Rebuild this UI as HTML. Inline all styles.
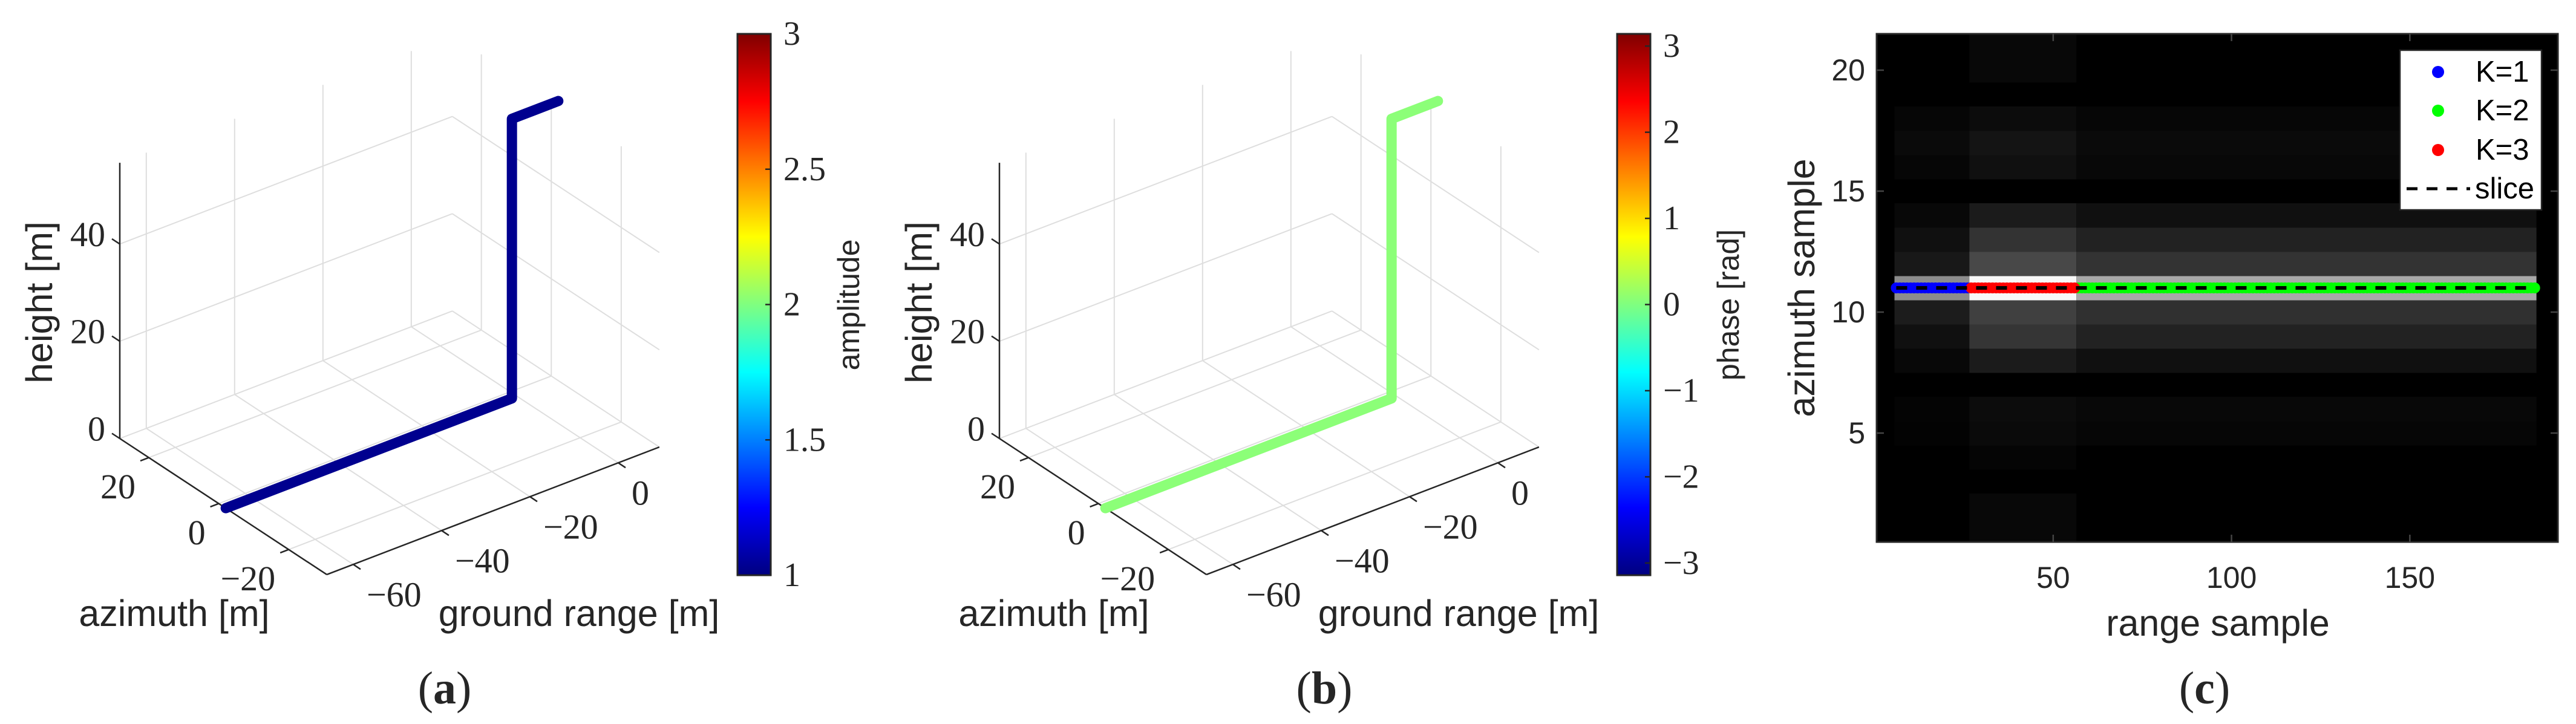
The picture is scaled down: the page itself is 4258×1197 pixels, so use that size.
<!DOCTYPE html>
<html><head><meta charset="utf-8">
<style>
html,body{margin:0;padding:0;background:#fff;}
svg{display:block;}
.serif{font-family:"Liberation Serif",serif;fill:#262626;}
.sans{font-family:"Liberation Sans",sans-serif;fill:#262626;}
</style></head>
<body>
<svg id="fig" width="4258" height="1197" viewBox="0 0 4258 1197" xmlns="http://www.w3.org/2000/svg">
<defs>
<linearGradient id="jet" x1="0" y1="1" x2="0" y2="0">
<stop offset="0" stop-color="#000080"/><stop offset="0.125" stop-color="#0000ff"/>
<stop offset="0.375" stop-color="#00ffff"/><stop offset="0.625" stop-color="#ffff00"/>
<stop offset="0.875" stop-color="#ff0000"/><stop offset="1" stop-color="#800000"/>
</linearGradient>
</defs>
<g id="pa"></g>
<g id="pb"></g>
<g id="pc"></g>
</svg>
<script>
// ---- 3D path data (panels a, b) ----
const pathRange = [-66, -1.2, -1.2, 9.3];
const pathAzimuth = [-2, -2, -2, -2];
const pathHeight = [0, 0, 57.5, 57.5];
const rangeTicks = [-60, -40, -20, 0];
const azTicks = [20, 0, -20];
const hTicks = [0, 20, 40];
const ampTicks = [1, 1.5, 2, 2.5, 3];
const phaseTicks = [-3, -2, -1, 0, 1, 2, 3];
// ---- heatmap data (panel c) ----
const segCols = [[6, 26], [27, 56], [57, 185]];
const segRow1 = [0,0,0,0,3,4,0,8,16,28,140,24,16,8,0,6,10,6,0,0,0];
const segRow2 = [8,8,0,5,10,12,0,27,53,64,248,72,51,27,0,16,20,12,0,8,8];
const segRow3 = [0,0,0,0,6,8,0,16,34,48,168,51,34,16,0,8,10,6,0,0,0];
const clusterLabels = ["K=1", "K=3", "K=2"];
const clusterColors = ["#0000ff", "#ff0000", "#00ff00"];
const sliceRow = 11;
const cXTicks = [50, 100, 150];
const cYTicks = [5, 10, 15, 20];

const NS = "http://www.w3.org/2000/svg";
function mk(parent, tag, attrs, text) {
  const e = document.createElementNS(NS, tag);
  for (const k in attrs) e.setAttribute(k, attrs[k]);
  if (text !== undefined) e.textContent = text;
  parent.appendChild(e);
  return e;
}
const RMIN = -66, RMAX = 9.3, AMIN = -30.9, AMAX = 28.3, HMAX = 56.7;
function fmt(v) { return (v < 0 ? "\u2212" : "") + Math.abs(v); }

function draw3d(g, off, color, cbTicks, cbMin, cbMax, cbLabel, letter) {
  const P = (r, a, h) => { const t = r - RMIN, u = AMAX - a; return [off + 198 + t * 7.3 + u * 5.78, 725 - t * 2.8 + u * 3.8 - h * 8.04]; };
  const line = (p, q, stroke, w, name) => {
    const l = mk(g, "line", {x1: p[0], y1: p[1], x2: q[0], y2: q[1], stroke: stroke, "stroke-width": w});
    
    
    return l;
  };
  const gc = "#dedede";
  rangeTicks.forEach(r => {
    line(P(r, AMAX, 0), P(r, AMIN, 0), gc, 2, "grid-floor-range");
    line(P(r, AMAX, 0), P(r, AMAX, HMAX), gc, 2, "grid-wall-range");
  });
  azTicks.forEach(a => {
    line(P(RMIN, a, 0), P(RMAX, a, 0), gc, 2, "grid-floor-azimuth");
    line(P(RMAX, a, 0), P(RMAX, a, HMAX), gc, 2, "grid-wall-azimuth");
  });
  hTicks.forEach(h => {
    line(P(RMIN, AMAX, h), P(RMAX, AMAX, h), gc, 2, "grid-wall-height");
    line(P(RMAX, AMAX, h), P(RMAX, AMIN, h), gc, 2, "grid-wall-height");
  });
  const ac = "#262626";
  line(P(RMIN, AMAX, 0), P(RMIN, AMAX, HMAX), ac, 2.5, "height-axis");
  line(P(RMIN, AMAX, 0), P(RMIN, AMIN, 0), ac, 2.5, "azimuth-axis");
  line(P(RMIN, AMIN, 0), P(RMAX, AMIN, 0), ac, 2.5, "range-axis");
  hTicks.forEach(h => {
    const p = P(RMIN, AMAX, h);
    line(p, [p[0] - 13, p[1] - 8.5], ac, 2.5, "height-tick");
    const t = mk(g, "text", {x: p[0] - 24, y: p[1] - 16, "text-anchor": "end", "dominant-baseline": "central", "font-size": 58, class: "serif"}, fmt(h));
    
    
  });
  azTicks.forEach(a => {
    const p = P(RMIN, a, 0);
    line(p, [p[0] - 14, p[1] + 5.4], ac, 2.5, "azimuth-tick");
    const t = mk(g, "text", {x: p[0] - 22, y: p[1] + 48, "text-anchor": "end", "dominant-baseline": "central", "font-size": 58, class: "serif"}, fmt(a));
    
    
  });
  rangeTicks.forEach(r => {
    const p = P(r, AMIN, 0);
    line(p, [p[0] + 12, p[1] + 8], ac, 2.5, "range-tick");
    const t = mk(g, "text", {x: p[0] + 22, y: p[1] + 50, "text-anchor": "start", "dominant-baseline": "central", "font-size": 58, class: "serif"}, fmt(r));
    
    
  });
  const pts = pathRange.map((r, i) => P(r, pathAzimuth[i], pathHeight[i]).join(",")).join(" ");
  const pl = mk(g, "polyline", {points: pts, fill: "none", stroke: color, "stroke-width": 17, "stroke-linecap": "round", "stroke-linejoin": "round"});
  
  
  let t;
  t = mk(g, "text", {x: off + 65, y: 500, "text-anchor": "middle", "dominant-baseline": "central", "font-size": 61, class: "sans", transform: `rotate(-90 ${off + 65} 500)`}, "height [m]");
   
  t = mk(g, "text", {x: off + 288, y: 1035, "text-anchor": "middle", "font-size": 61, class: "sans"}, "azimuth [m]");
   
  t = mk(g, "text", {x: off + 957, y: 1035, "text-anchor": "middle", "font-size": 61, class: "sans"}, "ground range [m]");
   
  // colorbar
  const cx = off + 1219, cw = 55, top = 56, bot = 951;
  const cb = mk(g, "rect", {x: cx, y: top, width: cw, height: bot - top, fill: "url(#jet)", stroke: "#262626", "stroke-width": 3});
   
  cbTicks.forEach(v => {
    const y = bot - (v - cbMin) / (cbMax - cbMin) * (bot - top);
    line([cx + cw - 9, y], [cx + cw, y], "#262626", 2.5, "colorbar-tick");
    const tt = mk(g, "text", {x: cx + 76, y: y, "text-anchor": "start", "dominant-baseline": "central", "font-size": 56, class: "serif"}, fmt(v));
     
  });
  t = mk(g, "text", {x: off + 1403, y: 504, "text-anchor": "middle", "dominant-baseline": "central", "font-size": 50, class: "sans", transform: `rotate(-90 ${off + 1403} 504)`}, cbLabel);
   
  t = mk(g, "text", {x: off + 735, y: 1163, "text-anchor": "middle", "font-size": 76, class: "serif"});
   
  t.innerHTML = `(<tspan font-weight="bold">${letter}</tspan>)`;
}
draw3d(document.getElementById("pa"), 0, "#00008f", ampTicks, 1, 3, "amplitude", "a");
draw3d(document.getElementById("pb"), 1454, "#8cff78", phaseTicks, -Math.PI, Math.PI, "phase [rad]", "b");

// ---- panel c ----
(function () {
  const g = document.getElementById("pc");
  const L = 3102, R = 4228, T = 56, B = 896, XMIN = 0.5, XMAX = 191.5, YMIN = 0.5, YMAX = 21.5;
  const X = v => L + (v - XMIN) / (XMAX - XMIN) * (R - L);
  const Y = v => B - (v - YMIN) / (YMAX - YMIN) * (B - T);
  const bg = mk(g, "rect", {x: L, y: T, width: R - L, height: B - T, fill: "#000"});
   
  const segRows = [segRow1, segRow2, segRow3];
  segRows.forEach((rows, s) => {
    rows.forEach((val, i) => {
      if (!val) return;
      const row = i + 1;
      const x0 = X(segCols[s][0] - 0.5), x1 = X(segCols[s][1] + 0.5);
      const c = mk(g, "rect", {x: x0, y: Y(row + 0.5), width: x1 - x0, height: Y(row - 0.5) - Y(row + 0.5) + 0.5, fill: `rgb(${val},${val},${val})`});
      
      
    });
  });
  [0, 2, 1].forEach(s => {
    for (let col = segCols[s][0]; col <= segCols[s][1]; col++) {
      const m = mk(g, "circle", {cx: X(col), cy: Y(sliceRow), r: 9, fill: clusterColors[s]});
      
      
    }
  });
  const sl = mk(g, "line", {x1: X(segCols[0][0]), y1: Y(sliceRow), x2: X(segCols[2][1]), y2: Y(sliceRow), stroke: "#000", "stroke-width": 6, "stroke-dasharray": "18 15"});
   
  const fr = mk(g, "rect", {x: L, y: T, width: R - L, height: B - T, fill: "none", stroke: "#262626", "stroke-width": 3});
   
  cXTicks.forEach(v => {
    const tk = mk(g, "line", {x1: X(v), y1: B, x2: X(v), y2: B - 12, stroke: "#444", "stroke-width": 2.5});
     
    const tk2 = mk(g, "line", {x1: X(v), y1: T, x2: X(v), y2: T + 12, stroke: "#444", "stroke-width": 2.5});
     
    const t = mk(g, "text", {x: X(v), y: 955, "text-anchor": "middle", "dominant-baseline": "central", "font-size": 50, class: "sans"}, String(v));
     
  });
  cYTicks.forEach(v => {
    const tk = mk(g, "line", {x1: L, y1: Y(v), x2: L + 12, y2: Y(v), stroke: "#444", "stroke-width": 2.5});
     
    const tk2 = mk(g, "line", {x1: R, y1: Y(v), x2: R - 12, y2: Y(v), stroke: "#444", "stroke-width": 2.5});
     
    const t = mk(g, "text", {x: 3083, y: Y(v), "text-anchor": "end", "dominant-baseline": "central", "font-size": 50, class: "sans"}, String(v));
     
  });
  let t = mk(g, "text", {x: 2978, y: 476, "text-anchor": "middle", "dominant-baseline": "central", "font-size": 61, class: "sans", transform: "rotate(-90 2978 476)"}, "azimuth sample");
   
  t = mk(g, "text", {x: 3666, y: 1051, "text-anchor": "middle", "font-size": 61, class: "sans"}, "range sample");
   
  t = mk(g, "text", {x: 3644, y: 1163, "text-anchor": "middle", "font-size": 76, class: "serif"});
   
  t.innerHTML = '(<tspan font-weight="bold">c</tspan>)';
  const lg = mk(g, "g", {});
   
  const lb = mk(lg, "rect", {x: 3967, y: 83, width: 234, height: 264, fill: "#fff", stroke: "#262626", "stroke-width": 2.5});
   
  const order = [0, 2, 1];
  const ys = [119, 183, 248];
  order.forEach((s, i) => {
    const c = mk(lg, "circle", {cx: 4030, cy: ys[i], r: 10, fill: clusterColors[s]});
     
    const tt = mk(lg, "text", {x: 4092, y: ys[i], "dominant-baseline": "central", "font-size": 49, style: "font-family:'Liberation Sans',sans-serif;fill:#000"}, clusterLabels[s]);
     
  });
  const dl = mk(lg, "line", {x1: 3978, y1: 312, x2: 4083, y2: 312, stroke: "#000", "stroke-width": 5, "stroke-dasharray": "18 15"});
   
  const st = mk(lg, "text", {x: 4091, y: 312, "dominant-baseline": "central", "font-size": 49, style: "font-family:'Liberation Sans',sans-serif;fill:#000"}, "slice");
   
})();
</script>
</body></html>
